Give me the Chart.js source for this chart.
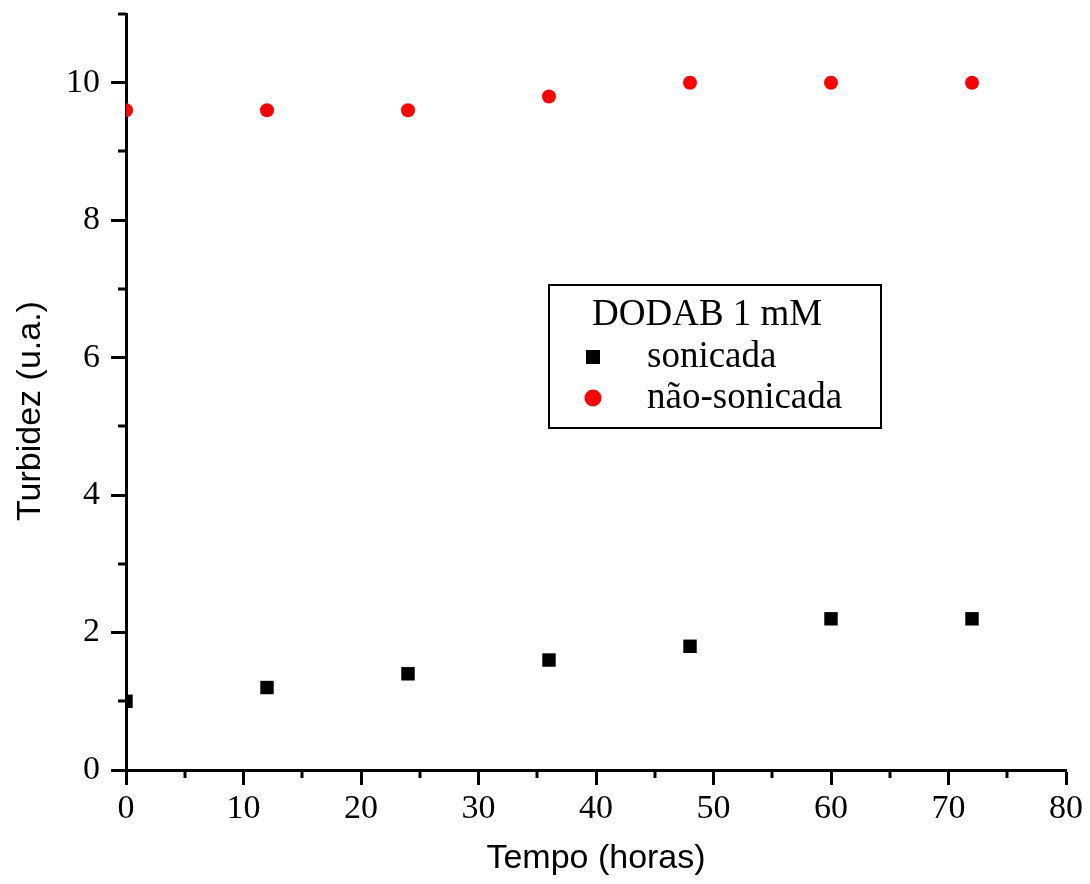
<!DOCTYPE html>
<html>
<head>
<meta charset="utf-8">
<script src="https://cdn.jsdelivr.net/npm/chart.js@4.4.0/dist/chart.umd.min.js"></script>
<style>
  html, body { margin: 0; padding: 0; background: #fff; }
  #wrap { width: 1090px; height: 884px; }
</style>
</head>
<body>
<div id="wrap"><canvas id="turbidez-chart" width="1090" height="884"></canvas></div>
<script>
// time points (horas)
const tempo = [0, 12, 24, 36, 48, 60, 72];
// turbidez for each sample
const sonicada = [1.0, 1.2, 1.4, 1.6, 1.8, 2.2, 2.2];
const naoSonicada = [9.6, 9.6, 9.6, 9.8, 10.0, 10.0, 10.0];
// minor tick positions
const xMinor = [5, 15, 25, 35, 45, 55, 65, 75];
const yMinor = [1, 3, 5, 7, 9, 11];
const legendTitle = "DODAB 1 mM";
const yTitle = "Turbidez (u.a.)";

function toPoints(xs, ys) {
  let pts = [];
  xs.forEach(function (x, i) {
    pts.push({x: x, y: ys[i]});
  });
  return pts;
}

// short ticks between the labelled ones
const minorTicks = {
  id: 'minorTicks',
  afterDraw(chart) {
    const ctx = chart.ctx;
    const area = chart.chartArea;
    const xs = chart.scales.x, ys = chart.scales.y;
    ctx.save();
    ctx.strokeStyle = '#000';
    ctx.lineWidth = 3;
    ctx.beginPath();
    xMinor.forEach(function (v) {
      const px = Math.round(xs.getPixelForValue(v));
      ctx.moveTo(px, area.bottom);
      ctx.lineTo(px, area.bottom + 8);
    });
    yMinor.forEach(function (v) {
      const py = Math.round(ys.getPixelForValue(v));
      ctx.moveTo(area.left, py);
      ctx.lineTo(area.left - 8, py);
    });
    ctx.stroke();
    ctx.restore();
  }
};

// y title sits a bit below the middle of the axis in the original
const yAxisTitle = {
  id: 'yAxisTitle',
  afterDraw(chart) {
    const ctx = chart.ctx;
    ctx.save();
    ctx.translate(31, 411);
    ctx.rotate(-Math.PI / 2);
    ctx.fillStyle = '#000';
    ctx.font = '34px "Liberation Sans"';
    ctx.textAlign = 'center';
    ctx.textBaseline = 'middle';
    ctx.fillText(yTitle, 0, 0);
    ctx.restore();
  }
};

// boxed legend inside the plot, like the original
const boxLegend = {
  id: 'boxLegend',
  afterDraw(chart) {
    const ctx = chart.ctx;
    const bx = 549, by = 285, bw = 332, bh = 143;
    ctx.save();
    ctx.fillStyle = '#fff';
    ctx.fillRect(bx, by, bw, bh);
    ctx.strokeStyle = '#000';
    ctx.lineWidth = 2;
    ctx.strokeRect(bx, by, bw, bh);
    ctx.fillStyle = '#000';
    ctx.font = '37px "Liberation Serif"';
    ctx.textBaseline = 'middle';
    ctx.textAlign = 'left';
    ctx.fillText(legendTitle, 592, 315);
    chart.data.datasets.forEach(function (ds, i) {
      const cy = 357 + i * 41;
      ctx.fillStyle = ds.backgroundColor;
      if (ds.pointStyle === 'rect') {
        ctx.fillRect(586, cy - 7, 14, 14);
      } else {
        ctx.beginPath();
        ctx.arc(593, cy, 8.5, 0, Math.PI * 2);
        ctx.fill();
      }
      ctx.fillStyle = '#000';
      ctx.fillText(ds.label, 647, cy);
    });
    ctx.restore();
  }
};

const tickFont = {family: '"Liberation Serif"', size: 34};
const titleFont = {family: '"Liberation Sans"', size: 34};

new Chart(document.getElementById('turbidez-chart'), {
  type: 'scatter',
  data: {
    datasets: [{
      label: 'sonicada',
      data: toPoints(tempo, sonicada),
      pointStyle: 'rect',
      pointRadius: 9.5,
      pointHoverRadius: 9.5,
      backgroundColor: '#000',
      borderColor: '#000',
      borderWidth: 0,
      clip: 0
    }, {
      label: 'não-sonicada',
      data: toPoints(tempo, naoSonicada),
      pointStyle: 'circle',
      pointRadius: 7,
      pointHoverRadius: 7,
      backgroundColor: '#ff0000',
      borderColor: '#ff0000',
      borderWidth: 0,
      clip: 0
    }]
  },
  options: {
    responsive: false,
    animation: false,
    layout: {padding: {top: 14, right: 24, left: 0, bottom: 0}},
    plugins: {
      legend: {display: false},
      tooltip: {enabled: false}
    },
    scales: {
      x: {
        type: 'linear',
        min: 0,
        max: 80,
        border: {color: '#000', width: 3},
        grid: {drawOnChartArea: false, drawTicks: true, tickLength: 15, tickWidth: 3, tickColor: '#000'},
        ticks: {stepSize: 10, color: '#000', font: tickFont, padding: 4, maxRotation: 0},
        title: {display: true, text: 'Tempo (horas)', color: '#000', font: titleFont, padding: {top: 0, bottom: 5}},
        afterFit(scale) { scale.height = 114; }
      },
      y: {
        type: 'linear',
        min: 0,
        max: 11,
        border: {color: '#000', width: 3},
        grid: {drawOnChartArea: false, drawTicks: true, tickLength: 15, tickWidth: 3, tickColor: '#000'},
        ticks: {stepSize: 2, includeBounds: false, color: '#000', font: tickFont, padding: 11},
        title: {display: false},
        afterFit(scale) {
          scale.width = 126;
          scale.paddingTop = 0;
          scale.paddingBottom = 0;
        }
      }
    }
  },
  plugins: [minorTicks, yAxisTitle, boxLegend]
});
</script>
</body>
</html>
